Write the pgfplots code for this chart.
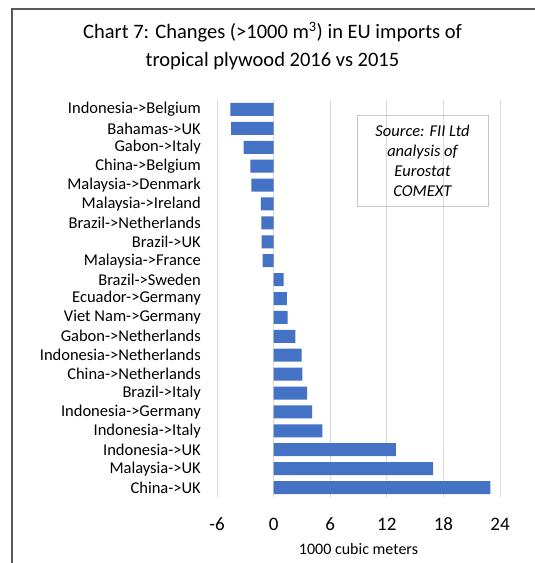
\documentclass[border=0pt]{standalone}
\usepackage{fontspec}
\setmainfont{Carlito}
\usepackage{pgfplots}
\pgfplotsset{compat=1.18}
\definecolor{barblue}{HTML}{4472C4}
\definecolor{gridgray}{HTML}{D9D9D9}
\definecolor{framegray}{HTML}{595959}
\begin{document}
\begin{tikzpicture}[x=1pt,y=1pt]
\useasboundingbox (0,0) rectangle (535,563);
% chart frame (only top and left edges are in view)
\draw[line width=1.5pt, framegray] (12,0) -- (12,554) -- (535,554);
\node[font=\fontsize{20.5}{28}\selectfont, align=center] at (272.5,517)
  {Chart 7: Changes (>1000 m\textsuperscript{3}) in EU imports of\\tropical plywood 2016 vs 2015};
\begin{axis}[
  at={(217pt,66pt)}, anchor=south west,
  scale only axis, width=283pt, height=397pt,
  xbar, bar width=13pt,
  xmin=-6, xmax=24, ymin=-0.5, ymax=20.5,
  y dir=reverse,
  xtick={-6,0,6,12,18,24},
  ytick={0,...,20},
  yticklabels={Indonesia->Belgium, Bahamas->UK, Gabon->Italy, China->Belgium,
    Malaysia->Denmark, Malaysia->Ireland, Brazil->Netherlands, Brazil->UK,
    Malaysia->France, Brazil->Sweden, Ecuador->Germany, Viet Nam->Germany,
    Gabon->Netherlands, Indonesia->Netherlands, China->Netherlands, Brazil->Italy,
    Indonesia->Germany, Indonesia->Italy, Indonesia->UK, Malaysia->UK, China->UK},
  xmajorgrids, grid style={gridgray, line width=0.8pt},
  axis line style={draw=none}, major tick length=0pt,
  /pgf/number format/assume math mode=true,
  xticklabel style={font=\fontsize{19}{22}\selectfont, anchor=base, inner sep=0pt, yshift=-33pt},
  yticklabel style={font=\fontsize{16.5}{18}\selectfont, anchor=east, inner sep=0pt, xshift=-16pt},
  xlabel={1000 cubic meters},
  xlabel style={font=\fontsize{16}{18}\selectfont, at={(axis description cs:0.5,0)}, anchor=center, yshift=-52pt},
]
\addplot[draw=none, fill=barblue] coordinates {
  (-4.58,0) (-4.50,1) (-3.17,2) (-2.47,3) (-2.36,4) (-1.34,5) (-1.30,6)
  (-1.27,7) (-1.16,8) (1.06,9) (1.40,10) (1.48,11) (2.32,12) (2.96,13)
  (3.06,14) (3.55,15) (4.08,16) (5.17,17) (12.95,18) (16.90,19) (22.98,20)};
\end{axis}
\node[draw=gridgray!80!gray, line width=0.8pt, minimum width=131pt, minimum height=91pt,
  align=center, font=\fontsize{16.5}{20}\selectfont\itshape] at (422.5,402.5)
  {Source: FII Ltd\\analysis of\\Eurostat\\COMEXT};
\end{tikzpicture}
\end{document}
